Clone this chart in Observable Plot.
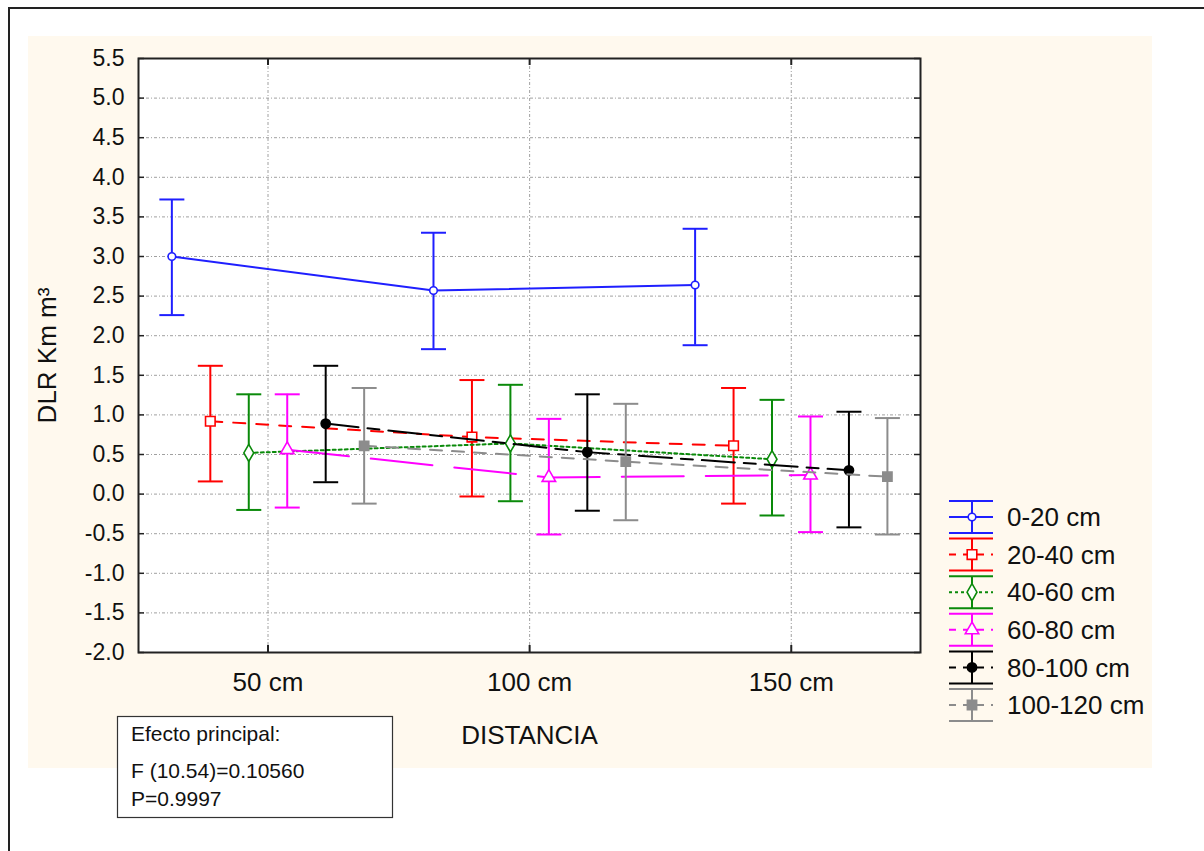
<!DOCTYPE html>
<html>
<head>
<meta charset="utf-8">
<script src="https://cdn.jsdelivr.net/npm/d3@7"></script>
<script src="https://cdn.jsdelivr.net/npm/@observablehq/plot@0.6"></script>
<style>
  body { margin: 0; background: #fff; font-family: "Liberation Sans", Arial, sans-serif; }
  #wrap { position: relative; width: 1204px; height: 851px; overflow: hidden; background: #fff; }
  #border { position: absolute; left: 8px; top: 7px; width: 1400px; height: 1000px; border-left: 2.5px solid #222; border-top: 2.5px solid #222; }
  #panel { position: absolute; left: 28px; top: 36px; width: 1124px; height: 732px; background: #fff9ee; }
  #chart { position: absolute; left: 0; top: 0; }
</style>
</head>
<body>
<div id="wrap">
  <div id="border"></div>
  <div id="panel"></div>
  <div id="chart"></div>
</div>
<script>
// ---- data ----
const distances = ["50 cm", "100 cm", "150 cm"];
const series = ["0-20 cm", "20-40 cm", "40-60 cm", "60-80 cm", "80-100 cm", "100-120 cm"];
const means = [
  [3.00, 2.57, 2.64],
  [0.92, 0.72, 0.61],
  [0.52, 0.64, 0.44],
  [0.56, 0.21, 0.24],
  [0.89, 0.53, 0.30],
  [0.61, 0.41, 0.22]
];
const upper = [
  [3.72, 3.30, 3.35],
  [1.62, 1.44, 1.34],
  [1.26, 1.38, 1.19],
  [1.26, 0.95, 0.98],
  [1.62, 1.26, 1.04],
  [1.34, 1.14, 0.96]
];
const lower = [
  [2.26, 1.83, 1.88],
  [0.16, -0.03, -0.12],
  [-0.20, -0.09, -0.27],
  [-0.17, -0.51, -0.48],
  [0.15, -0.21, -0.42],
  [-0.12, -0.33, -0.51]
];
const yTickValues = [-2.0, -1.5, -1.0, -0.5, 0.0, 0.5, 1.0, 1.5, 2.0, 2.5, 3.0, 3.5, 4.0, 4.5, 5.0, 5.5];
const noteLines = ["Efecto principal:", "F (10.54)=0.10560", "P=0.9997"];
const xTitle = "DISTANCIA";
const yTitle = "DLR Km m³";

// ---- styles ----
const colors = ["#1f1fff", "#ff0000", "#0a8a0a", "#ff00ff", "#000000", "#8c8c8c"];
const dashes = [null, "12,11", "3,3", "62,22", "33,9,12,9", "12,10"];
const symbols = ["circle", "square", "diamond", "triangle", "circle", "square"];
const symbolFill = ["#fff", "#fff", "#fff", "#fff", "#000000", "#8c8c8c"];
const symbolR = [3.8, 5.4, 5.2, 5, 4.6, 5.2];
const d3Symbols = {circle: d3.symbolCircle, square: d3.symbolSquare, diamond: d3.symbolDiamond, triangle: d3.symbolTriangle};

const W = 1204, H = 851;
const frameL = 138, frameR = 920, frameT = 58, frameB = 652;
const offsetStep = 0.147;

const rows = [];
series.forEach((s, i) => distances.forEach((d, j) => rows.push({
  series: s, si: i, dist: d,
  x: j + (i - (series.length - 1) / 2) * offsetStep,
  mean: means[i][j], lo: lower[i][j], hi: upper[i][j]
})));

const cap = { draw(ctx) { ctx.moveTo(-12.5, 0); ctx.lineTo(12.5, 0); } };

const plotW = frameR - frameL, plotH = frameB - frameT;
const gridStyle = { stroke: "#a0a0a0", strokeWidth: 1, strokeDasharray: "3,2,1,2" };

const marks = [
  Plot.frame({ fill: "#ffffff", stroke: null }),
  Plot.ruleY(yTickValues.filter(v => v > -2 && v < 5.5), { y: d => d, ...gridStyle }),
  Plot.ruleX([0, 1, 2], { x: d => d, ...gridStyle }),
  Plot.tickY(yTickValues, { y: d => d, insetRight: plotW - 6, stroke: "#222", strokeWidth: 1.5 }),
  Plot.tickY(yTickValues, { y: d => d, insetLeft: plotW - 6, stroke: "#222", strokeWidth: 1.5 }),
  Plot.tickX([0, 1, 2], { x: d => d, insetTop: plotH - 7, stroke: "#222", strokeWidth: 2 }),
  Plot.tickX([0, 1, 2], { x: d => d, insetBottom: plotH - 7, stroke: "#222", strokeWidth: 2 }),
  Plot.axisY({ ticks: yTickValues, tickFormat: d => d.toFixed(1), tickSize: 0, tickPadding: 14, fontSize: 23, label: null }),
  Plot.axisX({ ticks: [0, 1, 2], tickFormat: i => distances[i], tickSize: 0, tickPadding: 20, fontSize: 26, label: null }),
  Plot.text([xTitle], { text: d => d, frameAnchor: "bottom", dy: 83, fontSize: 26, lineAnchor: "middle", textAnchor: "middle", fill: "#111" }),
  Plot.text([yTitle], { text: d => d, frameAnchor: "left", dx: -91, rotate: -90, fontSize: 26, lineAnchor: "middle", textAnchor: "middle", fill: "#111" })
];

series.forEach((s, i) => {
  const data = rows.filter(r => r.si === i);
  marks.push(
    Plot.line(data, { x: "x", y: "mean", stroke: colors[i], strokeWidth: 2, strokeDasharray: dashes[i] }),
    Plot.ruleX(data, { x: "x", y1: "lo", y2: "hi", stroke: colors[i], strokeWidth: 2 }),
    Plot.dot(data, { x: "x", y: "hi", symbol: cap, stroke: colors[i], strokeWidth: 2, fill: "none" }),
    Plot.dot(data, { x: "x", y: "lo", symbol: cap, stroke: colors[i], strokeWidth: 2, fill: "none" }),
    Plot.dot(data, { x: "x", y: "mean", symbol: symbols[i], r: symbolR[i], stroke: colors[i], strokeWidth: 1.6, fill: symbolFill[i] })
  );
});

marks.push(Plot.frame({ stroke: "#222", strokeWidth: 2 }));

const chart = Plot.plot({
  width: W, height: H,
  marginLeft: frameL, marginRight: W - frameR, marginTop: frameT, marginBottom: H - frameB,
  x: { type: "linear", domain: [-0.495, 2.494] },
  y: { domain: [-2, 5.5] },
  style: { background: "transparent", fontFamily: "Liberation Sans, Arial, sans-serif", color: "#111", overflow: "visible" },
  marks
});
document.getElementById("chart").appendChild(chart);

// ---- legend ----
const svg = d3.select(chart);
const lg = svg.append("g").attr("font-family", "Liberation Sans, Arial, sans-serif").attr("text-anchor", "start");
series.forEach((s, i) => {
  const cy = 517 + i * 37.6;
  const g = lg.append("g");
  const c = colors[i];
  g.append("line").attr("x1", 949).attr("x2", 993).attr("y1", cy - 16).attr("y2", cy - 16).attr("stroke", c).attr("stroke-width", 2);
  g.append("line").attr("x1", 949).attr("x2", 993).attr("y1", cy + 16).attr("y2", cy + 16).attr("stroke", c).attr("stroke-width", 2);
  g.append("line").attr("x1", 972).attr("x2", 972).attr("y1", cy - 16).attr("y2", cy + 16).attr("stroke", c).attr("stroke-width", 2);
  g.append("line").attr("x1", 949).attr("x2", 993).attr("y1", cy).attr("y2", cy).attr("stroke", c).attr("stroke-width", 2)
    .attr("stroke-dasharray", i === 0 ? null : (i === 2 ? "3,3" : "7,7"));
  const area = symbolR[i] * symbolR[i] * Math.PI;
  g.append("path").attr("d", d3.symbol(d3Symbols[symbols[i]], area)()).attr("transform", `translate(972,${cy})`)
    .attr("fill", symbolFill[i]).attr("stroke", c).attr("stroke-width", 1.6);
  g.append("text").attr("x", 1007).attr("y", cy).attr("dy", "0.35em").attr("font-size", 26).attr("fill", "#111").text(s);
});

// ---- note box ----
const ng = svg.append("g").attr("font-family", "Liberation Sans, Arial, sans-serif").attr("text-anchor", "start");
ng.append("rect").attr("x", 117.5).attr("y", 716.5).attr("width", 275).attr("height", 101).attr("fill", "#fff").attr("stroke", "#333").attr("stroke-width", 1.2);
const baselines = [741, 778, 806];
noteLines.forEach((t, k) => ng.append("text").attr("x", 131).attr("y", baselines[k]).attr("font-size", 21).attr("fill", "#111").text(t));
</script>
</body>
</html>
